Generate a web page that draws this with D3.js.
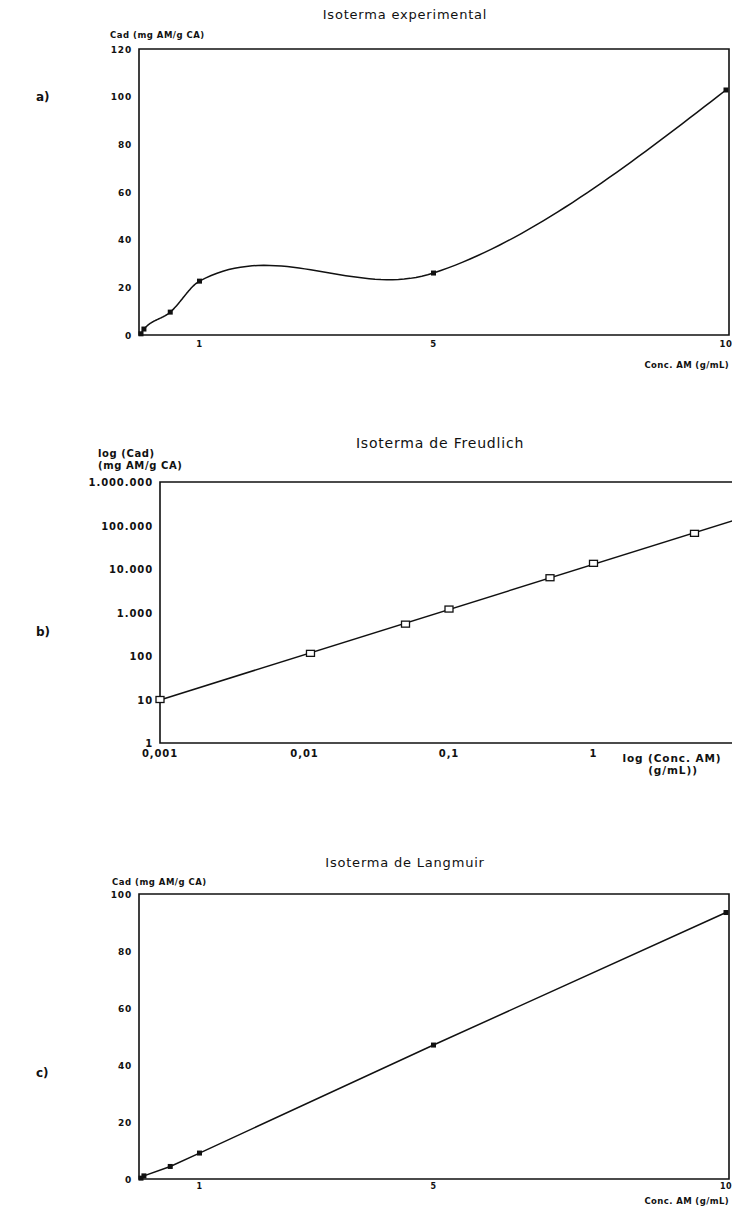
<!DOCTYPE html>
<html>
<head>
<meta charset="utf-8">
<script src="https://cdn.jsdelivr.net/npm/d3@7/dist/d3.min.js"></script>
<style>
  html, body { margin: 0; padding: 0; background: #fff; }
  svg { display: block; }
  text { font-family: "DejaVu Sans", "Liberation Sans", sans-serif; fill: #111; }
</style>
</head>
<body>
<svg id="chart" width="732" height="1219"></svg>
<script>
// ---------- DATA ----------
// a) Isoterma experimental
const expConc = [0, 0.05, 0.5, 1, 5, 10];
const expCad  = [0.5, 2.5, 9.6, 22.6, 26, 102.8];
const expYTicks = [0, 20, 40, 60, 80, 100, 120];
const expXTicks = [1, 5, 10];

// b) Isoterma de Freudlich (log-log)
const freConc = [0.001, 0.011, 0.05, 0.1, 0.5, 1, 5];
const freCad  = [10, 115, 540, 1200, 6300, 13500, 66000];
const freYTicks = [1, 10, 100, 1000, 10000, 100000, 1000000];
const freXTicks = [0.001, 0.01, 0.1, 1];

// c) Isoterma de Langmuir
const lanConc = [0, 0.05, 0.5, 1, 5, 10];
const lanCad  = [0.3, 1.1, 4.4, 9.1, 47, 93.5];
const lanYTicks = [0, 20, 40, 60, 80, 100];
const lanXTicks = [1, 5, 10];

// ---------- HELPERS ----------
const svg = d3.select("#chart");
svg.append("rect").attr("width", 732).attr("height", 1219).attr("fill", "#fff");

const es = d3.formatLocale({decimal: ",", thousands: ".", grouping: [3], currency: ["", ""]});
const fmtInt = es.format(",d");
const fmtDec = v => es.format(",." + Math.max(0, -Math.floor(Math.log10(v) + 1e-9)) + "f")(v);

function txt(g, x, y, s, size, anchor, weight, ls) {
  return g.append("text").attr("x", x).attr("y", y).text(s)
    .attr("font-size", size).attr("text-anchor", anchor || "start")
    .attr("font-weight", weight || "bold")
    .attr("letter-spacing", ls == null ? 0.6 : ls);
}

// cubic Hermite spline y(x) with averaged-secant tangents
function hermite(xs, ys) {
  const n = xs.length, d = [], m = [];
  for (let i = 0; i < n - 1; i++) d.push((ys[i + 1] - ys[i]) / (xs[i + 1] - xs[i]));
  for (let i = 1; i < n - 1; i++) m[i] = (d[i - 1] + d[i]) / 2;
  m[0] = (3 * d[0] - m[1]) / 2;
  m[n - 1] = (3 * d[n - 2] - m[n - 2]) / 2;
  const pts = [];
  for (let i = 0; i < n - 1; i++) {
    const h = xs[i + 1] - xs[i], N = 40;
    for (let k = 0; k <= N; k++) {
      if (i > 0 && k === 0) continue;
      const s = k / N, s2 = s * s, s3 = s2 * s;
      const y = (2 * s3 - 3 * s2 + 1) * ys[i] + (s3 - 2 * s2 + s) * h * m[i]
              + (-2 * s3 + 3 * s2) * ys[i + 1] + (s3 - s2) * h * m[i + 1];
      pts.push([xs[i] + s * h, y]);
    }
  }
  return pts;
}

function frame(g, x0, x1, y0, y1, noRight) {
  const p = d3.path();
  if (noRight) {
    p.moveTo(x1, y0); p.lineTo(x0, y0); p.lineTo(x0, y1); p.lineTo(x1, y1);
  } else {
    p.moveTo(x0, y0); p.lineTo(x1, y0); p.lineTo(x1, y1); p.lineTo(x0, y1); p.closePath();
  }
  g.append("path").attr("d", p.toString()).attr("fill", "none")
    .attr("stroke", "#111").attr("stroke-width", 1.6);
}

// ---------- PANEL A ----------
(function () {
  const g = svg.append("g");
  const L = 139, R = 729, T = 49, B = 335;
  const x = d3.scaleLinear().domain([0, 10]).range([141, 726]);
  const y = d3.scaleLinear().domain([0, 120]).range([B, T]);
  txt(g, 405, 19, "Isoterma experimental", 13, "middle", "normal", 0.8);
  txt(g, 110, 38, "Cad (mg AM/g CA)", 8.5, "start", "bold", 0.5);
  txt(g, 36, 101, "a)", 12, "start", "bold", 0);
  frame(g, L, R, T, B);
  expYTicks.forEach(v => txt(g, 132, y(v) + 3.5, String(v), 9, "end", "bold", 0.8));
  expXTicks.forEach(v => txt(g, x(v), B + 12, String(v), 8.5, "middle", "bold", 0.5));
  txt(g, 729, 368, "Conc. AM (g/mL)", 8.5, "end", "bold", 0.4);
  const line = d3.line().x(d => x(d[0])).y(d => y(d[1]));
  g.append("path").attr("d", line(hermite(expConc, expCad)))
    .attr("fill", "none").attr("stroke", "#111").attr("stroke-width", 1.5);
  g.selectAll("rect.m").data(expConc.map((c, i) => [c, expCad[i]])).enter()
    .append("rect").attr("x", d => x(d[0]) - 2.5).attr("y", d => y(d[1]) - 2.5)
    .attr("width", 5).attr("height", 5).attr("fill", "#111");
})();

// ---------- PANEL B ----------
(function () {
  const g = svg.append("g");
  const L = 160, T = 482, B = 743;
  const x = d3.scaleLog().domain([0.001, 10]).range([160, 738]);
  const y = d3.scaleLog().domain([1, 1000000]).range([B, T]);
  const R = x.range()[1];
  txt(g, 440, 448, "Isoterma de Freudlich", 14, "middle", "normal", 0.8);
  txt(g, 98, 457, "log (Cad)", 10, "start", "bold", 0.6);
  txt(g, 98, 469, "(mg AM/g CA)", 10, "start", "bold", 0.6);
  txt(g, 36, 636, "b)", 12, "start", "bold", 0);
  frame(g, L, R, T, B, true);
  freYTicks.forEach(v => txt(g, 153, y(v) + 4, fmtInt(v), 10, "end", "bold", 0.9));
  freXTicks.forEach(v => txt(g, x(v), B + 14, fmtDec(v), 10, "middle", "bold", 0.9));
  txt(g, 672, 762, "log (Conc. AM)", 10.5, "middle", "bold", 0.9);
  txt(g, 673, 774, "(g/mL))", 10.5, "middle", "bold", 0.9);
  // least-squares fit in log-log space
  const lx = freConc.map(Math.log10), ly = freCad.map(Math.log10);
  const mx = d3.mean(lx), my = d3.mean(ly);
  const b = d3.sum(lx.map((v, i) => (v - mx) * (ly[i] - my))) / d3.sum(lx.map(v => (v - mx) * (v - mx)));
  const a = my - b * mx;
  const dom = x.domain();
  const fit = dom.map(c => [c, Math.pow(10, a + b * Math.log10(c))]);
  g.append("path").attr("d", d3.line().x(d => x(d[0])).y(d => y(d[1]))(fit))
    .attr("fill", "none").attr("stroke", "#111").attr("stroke-width", 1.5);
  g.selectAll("rect.m").data(freConc.map((c, i) => [c, freCad[i]])).enter()
    .append("rect").attr("x", d => x(d[0]) - 4).attr("y", d => y(d[1]) - 3)
    .attr("width", 8).attr("height", 6).attr("fill", "#fff")
    .attr("stroke", "#111").attr("stroke-width", 1.3);
})();

// ---------- PANEL C ----------
(function () {
  const g = svg.append("g");
  const L = 139, R = 729, T = 894, B = 1179;
  const x = d3.scaleLinear().domain([0, 10]).range([141, 726]);
  const y = d3.scaleLinear().domain([0, 100]).range([B, T]);
  txt(g, 405, 867, "Isoterma de Langmuir", 13, "middle", "normal", 0.8);
  txt(g, 112, 885, "Cad (mg AM/g CA)", 8.5, "start", "bold", 0.5);
  txt(g, 36, 1077, "c)", 12, "start", "bold", 0);
  frame(g, L, R, T, B);
  lanYTicks.forEach(v => txt(g, 132, y(v) + 3.5, String(v), 9, "end", "bold", 0.8));
  lanXTicks.forEach(v => txt(g, x(v), B + 10, String(v), 8, "middle", "bold", 0.5));
  txt(g, 729, 1204, "Conc. AM (g/mL)", 8.5, "end", "bold", 0.4);
  const line = d3.line().x((d, i) => x(lanConc[i])).y(d => y(d));
  g.append("path").attr("d", line(lanCad))
    .attr("fill", "none").attr("stroke", "#111").attr("stroke-width", 1.5);
  g.selectAll("rect.m").data(lanConc.map((c, i) => [c, lanCad[i]])).enter()
    .append("rect").attr("x", d => x(d[0]) - 2.5).attr("y", d => y(d[1]) - 2.5)
    .attr("width", 5).attr("height", 5).attr("fill", "#111");
})();
</script>
</body>
</html>
